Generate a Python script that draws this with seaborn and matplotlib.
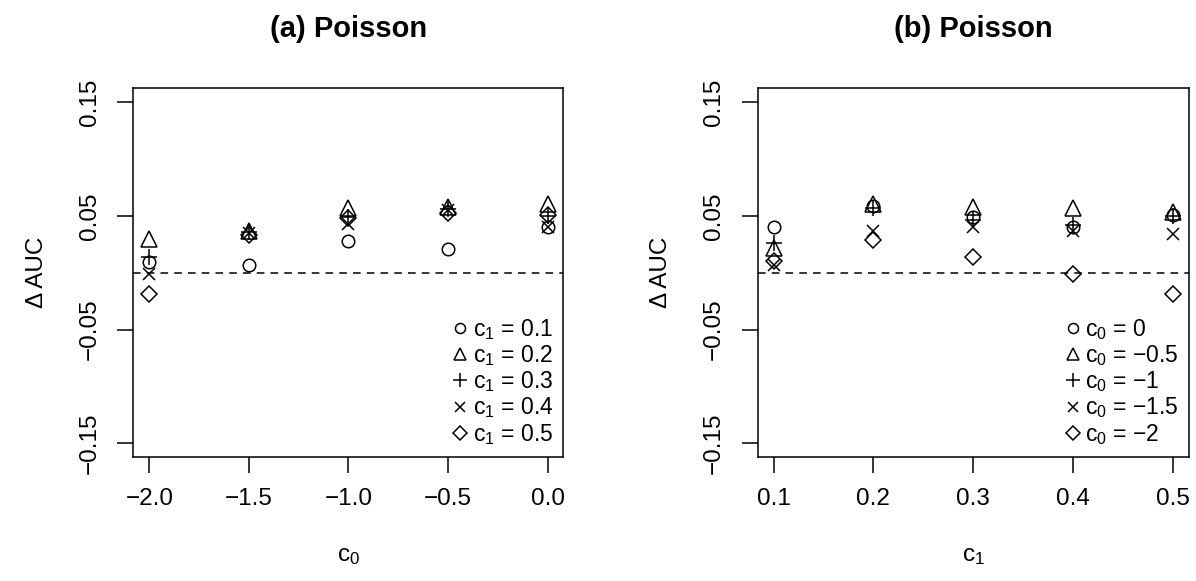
import numpy as np
import pandas as pd
import matplotlib
matplotlib.use('Agg')
import matplotlib.pyplot as plt
import seaborn as sns

# values
c0_values = [-2.0, -1.5, -1.0, -0.5, 0.0]
c1_values = [0.1, 0.2, 0.3, 0.4, 0.5]

# panel (a): x = c0, one series per c1
auc_a_c1_01 = [0.009, 0.007, 0.028, 0.021, 0.040]
auc_a_c1_02 = [0.030, 0.037, 0.057, 0.058, 0.060]
auc_a_c1_03 = [0.014, 0.036, 0.049, 0.056, 0.050]
auc_a_c1_04 = [-0.001, 0.035, 0.043, 0.055, 0.040]
auc_a_c1_05 = [-0.019, 0.033, 0.048, 0.052, 0.051]

# panel (b): x = c1, one series per c0
auc_b_c0_0 = [0.040, 0.059, 0.049, 0.040, 0.051]
auc_b_c0_05 = [0.022, 0.060, 0.058, 0.057, 0.053]
auc_b_c0_1 = [0.026, 0.057, 0.046, 0.042, 0.050]
auc_b_c0_15 = [0.007, 0.037, 0.040, 0.037, 0.034]
auc_b_c0_2 = [0.010, 0.029, 0.014, -0.001, -0.019]

labels_a = [r'$\mathregular{c_1}$ = 0.1', r'$\mathregular{c_1}$ = 0.2', r'$\mathregular{c_1}$ = 0.3',
            r'$\mathregular{c_1}$ = 0.4', r'$\mathregular{c_1}$ = 0.5']
labels_b = [r'$\mathregular{c_0}$ = 0', r'$\mathregular{c_0}$ = −0.5', r'$\mathregular{c_0}$ = −1',
            r'$\mathregular{c_0}$ = −1.5', r'$\mathregular{c_0}$ = −2']

x_ticks_a = [-2.0, -1.5, -1.0, -0.5, 0.0]
x_ticklabels_a = ['−2.0', '−1.5', '−1.0', '−0.5', '0.0']
x_ticks_b = [0.1, 0.2, 0.3, 0.4, 0.5]
x_ticklabels_b = ['0.1', '0.2', '0.3', '0.4', '0.5']
y_ticks = [-0.15, -0.05, 0.05, 0.15]
y_ticklabels = ['−0.15', '−0.05', '0.05', '0.15']

sns.set_style('ticks')
plt.rcParams['font.family'] = ['Liberation Sans', 'DejaVu Sans']
plt.rcParams['mathtext.fontset'] = 'custom'
plt.rcParams['mathtext.rm'] = 'Liberation Sans'
plt.rcParams['text.color'] = 'black'
plt.rcParams['axes.labelcolor'] = 'black'
plt.rcParams['xtick.color'] = 'black'
plt.rcParams['ytick.color'] = 'black'

markers = [('o', 9.0), ('^', 11.0), ('+', 12.0), ('x', 9.0), ('D', 8.5)]
LW = 1.1


def draw_panel(ax, xvals, series, labels, xticks, xticklabels, xlim, xlabel, title):
    for vals, lab, (m, ms) in zip(series, labels, markers):
        df = pd.DataFrame({'x': xvals, 'y': vals})
        sns.lineplot(data=df, x='x', y='y', ax=ax, linestyle='none',
                     marker=m, markersize=ms, markerfacecolor='none',
                     markeredgecolor='black', markeredgewidth=LW,
                     color='black', label=lab, estimator=None)
    ax.axhline(0, color='black', lw=LW, linestyle=(0, (5, 4)))
    ax.set_xlim(*xlim)
    ax.set_ylim(-0.162, 0.162)
    ax.set_xticks(xticks)
    ax.set_xticklabels(xticklabels)
    ax.set_yticks(y_ticks)
    ax.set_yticklabels(y_ticklabels, rotation=90, va='center')
    ax.tick_params(axis='both', length=11.5, width=LW, labelsize=17.5,
                   color='black', labelcolor='black')
    ax.tick_params(axis='x', pad=11)
    ax.tick_params(axis='y', pad=12)
    for s in ax.spines.values():
        s.set_linewidth(LW)
        s.set_color('black')
    ax.set_xlabel(xlabel, fontsize=17.5, labelpad=25, color='black')
    ax.set_ylabel('Δ AUC', fontsize=17.5, labelpad=22, color='black')
    ax.set_title(title, fontsize=21, fontweight='bold', pad=37, color='black')
    ax.legend(loc='lower right', frameon=False, fontsize=16.5, markerscale=0.8,
              handlelength=0.5, handletextpad=0.3, labelspacing=0.06,
              borderaxespad=0.25, borderpad=0.2)


fig = plt.figure(figsize=(11.96, 5.81), dpi=100)
ax1 = fig.add_axes([0.1115, 0.2134, 0.3596, 0.6346])
ax2 = fig.add_axes([0.6334, 0.2134, 0.3608, 0.6346])

draw_panel(ax1, c0_values,
           [auc_a_c1_01, auc_a_c1_02, auc_a_c1_03, auc_a_c1_04, auc_a_c1_05],
           labels_a, x_ticks_a, x_ticklabels_a, (-2.08, 0.08),
           r'$\mathregular{c_0}$', '(a) Poisson')
draw_panel(ax2, c1_values,
           [auc_b_c0_0, auc_b_c0_05, auc_b_c0_1, auc_b_c0_15, auc_b_c0_2],
           labels_b, x_ticks_b, x_ticklabels_b, (0.084, 0.516),
           r'$\mathregular{c_1}$', '(b) Poisson')

fig.savefig('out.png', dpi=100)
